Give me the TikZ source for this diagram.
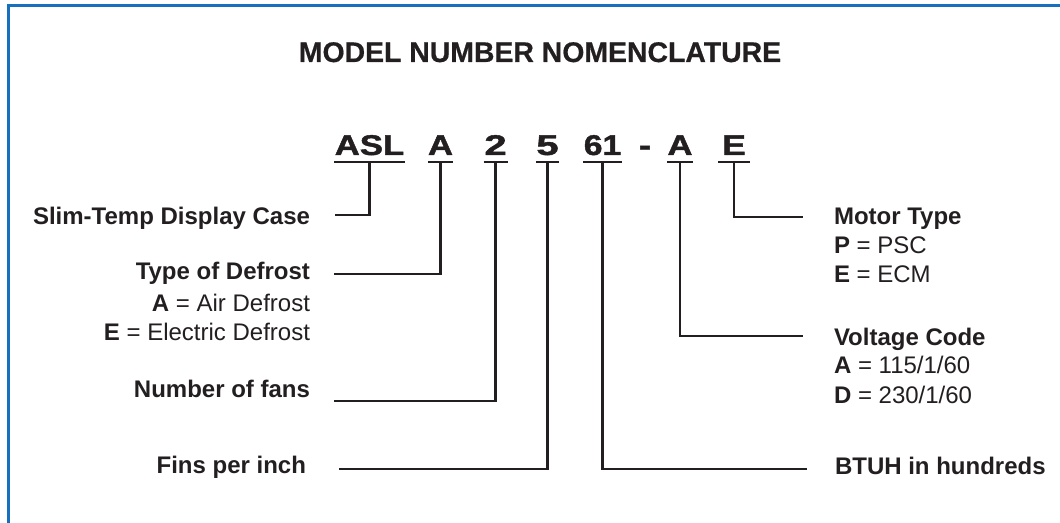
\documentclass[tikz,border=0pt]{standalone}
\usepackage{fontspec}
\setmainfont{Liberation Sans}
\newfontfamily\codefont[FakeBold=1.4]{Liberation Sans Bold}
\newfontfamily\titlefont[FakeBold=0.6]{Liberation Sans Bold}
\definecolor{ink}{HTML}{231F20}
\definecolor{frameblue}{RGB}{22,112,189}
\newcommand{\stx}[2]{\scalebox{#1}[1]{#2}}
\begin{document}
\begin{tikzpicture}[x=1bp,y=-1bp,
  every node/.style={inner sep=0pt, outer sep=0pt, text=ink},
  conn/.style={draw=ink, line width=2.4bp},
  title/.style={font=\fontsize{28.4bp}{32bp}\titlefont},
  lbl/.style={font=\fontsize{24bp}{29bp}\selectfont\bfseries},
  sub/.style={font=\fontsize{24bp}{29bp}\selectfont},
  code/.style={font=\fontsize{28.5bp}{32bp}\codefont, anchor=base, text depth=7bp}]
\useasboundingbox (0,0) rectangle (1060,523);
\draw[frameblue, line width=3bp] (8,530) -- (8,6) -- (1070,6);

\node[title, anchor=base] (title) at (540,62) {MODEL NUMBER NOMENCLATURE};

% code characters
\node[code, minimum width=71bp] (asl) at (369.5,155) {\stx{1.22}{ASL}};
\node[code, minimum width=25bp] (def) at (440.5,155) {\stx{1.22}{A}};
\node[code, minimum width=24bp] (fan) at (495.5,155) {\stx{1.4}{2}};
\node[code, minimum width=22bp] (fin) at (547.5,155) {\stx{1.4}{5}};
\node[code, minimum width=39bp] (btu) at (602.5,155) {\stx{1.18}{61}};
\node[code] (dash) at (645,155) {\stx{1.3}{-}};
\node[code, minimum width=25bp] (volt) at (680,155) {\stx{1.22}{A}};
\node[code, minimum width=32bp] (mot) at (734,155) {\stx{1.25}{E}\hspace{8bp}};

\foreach \n in {asl,def,fan,fin,btu,volt,mot}
  \draw[conn] (\n.south west) -- (\n.south east);

% left labels
\node[lbl, anchor=base east] (slim) at (310,225) {Slim-Temp Display Case};
\node[lbl, anchor=base east] (tdef) at (310,280) {Type of Defrost};
\node[sub, anchor=base east] (tdefa) at (310,312) {\textbf{A} = Air Defrost};
\node[sub, anchor=base east] (tdefe) at (310,341) {\textbf{E} = Electric Defrost};
\node[lbl, anchor=base east] (nfan) at (310,397) {Number of fans};
\node[lbl, anchor=base east] (fpi) at (306,473) {Fins per inch};

% right labels
\node[lbl, anchor=base west] (mtype) at (834,225) {Motor Type};
\node[sub, anchor=base west] (mtp) at (834,254) {\textbf{P} = PSC};
\node[sub, anchor=base west] (mte) at (834,283) {\textbf{E} = ECM};
\node[lbl, anchor=base west] (vcode) at (834,346) {Voltage Code};
\node[sub, anchor=base west] (vca) at (834,374) {\textbf{A} = 115/1/60};
\node[sub, anchor=base west] (vcd) at (834,403) {\textbf{D} = 230/1/60};
\node[lbl, anchor=base west] (btuh) at (835,474) {BTUH in hundreds};

% connector ends
\coordinate (eslim) at (335,215);
\coordinate (edef) at (334,274);
\coordinate (efan) at (334,401);
\coordinate (efin) at (339,469);
\coordinate (ebtu) at (807,469);
\coordinate (evolt) at (803,336);
\coordinate (emot) at (803,217);

\draw[conn] (asl.south) |- (eslim);
\draw[conn] (def.south) |- (edef);
\draw[conn] (fan.south) |- (efan);
\draw[conn] (fin.south) |- (efin);
\draw[conn] (btu.south) |- (ebtu);
\draw[conn] (volt.south) |- (evolt);
\draw[conn] (mot.south) |- (emot);
\end{tikzpicture}
\end{document}
